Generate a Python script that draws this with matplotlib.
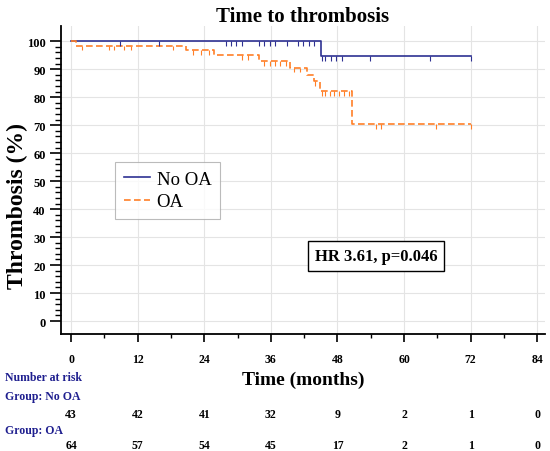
import matplotlib
matplotlib.use('Agg')
import matplotlib.pyplot as plt
import numpy as np
from matplotlib.transforms import blended_transform_factory

plt.rcParams['font.family'] = ['Liberation Serif', 'DejaVu Serif']

# Kaplan-Meier steps (months, %)
no_oa_times = [0, 45.0]
no_oa_surv = [100, 94.7]
no_oa_end = 72
no_oa_censor = [8.8, 15.9, 27.9, 28.8, 29.8, 30.8, 33.9, 34.8, 35.8, 36.8, 38.9,
                40.9, 41.8, 42.8, 43.8, 45.2, 45.8, 46.9, 47.8, 48.8, 53.8, 64.7, 72]

oa_times = [0, 0.9, 20.8, 25.8, 33.8, 39.5, 42.6, 43.7, 44.8, 50.6]
oa_surv = [100, 98.4, 96.7, 95.0, 93.0, 90.6, 88.0, 85.8, 82.2, 70.3]
oa_end = 72
oa_censor = [2.0, 6.9, 7.8, 9.6, 10.8, 18.4, 21.9, 23.4, 24.9, 30.8, 31.9,
             34.7, 35.9, 36.8, 37.7, 38.8, 40.1, 41.3, 44.0, 45.2, 45.8, 46.6,
             47.3, 48.2, 49.1, 50.0, 55.0, 55.8, 65.8, 72]

risk_times = [0, 12, 24, 36, 48, 60, 72, 84]
risk_no_oa = [43, 42, 41, 32, 9, 2, 1, 0]
risk_oa = [64, 57, 54, 45, 17, 2, 1, 0]

blue = '#2e3192'
orange = '#ff7f27'
navy = '#1f1f8f'


def level_at(times, surv, t):
    idx = np.searchsorted(times, t, side='right') - 1
    return surv[idx]


fig = plt.figure(figsize=(5.5, 4.52), dpi=100)
ax = fig.add_axes([0.111, 0.259, 0.88, 0.681])

ax.step(no_oa_times + [no_oa_end], no_oa_surv + [no_oa_surv[-1]], where='post',
        color=blue, lw=1.2, label='No OA', zorder=3)
ax.step(oa_times + [oa_end], oa_surv + [oa_surv[-1]], where='post',
        color=orange, lw=1.2, ls=(0, (4, 2)), label='OA', zorder=3)

cy = [level_at(no_oa_times, no_oa_surv, t) for t in no_oa_censor]
ax.vlines(no_oa_censor, np.array(cy) - 1.7, cy, color=blue, lw=0.8, zorder=3)
cy = [level_at(oa_times, oa_surv, t) for t in oa_censor]
ax.vlines(oa_censor, np.array(cy) - 1.7, cy, color=orange, lw=0.8, zorder=3)

ax.set_xlim(-1.8, 85.4)
ax.set_ylim(-4.6, 105.4)
ax.set_xticks(risk_times)
ax.set_xticks(np.arange(0, 85, 6), minor=True)
ax.set_yticks(np.arange(0, 101, 10))
ax.set_yticks(np.arange(0, 101, 2), minor=True)
ax.grid(True, which='major', color='#e4e4e4', lw=0.8, zorder=0)

for s in ['top', 'right']:
    ax.spines[s].set_visible(False)
for s in ['left', 'bottom']:
    ax.spines[s].set_linewidth(1.3)

ax.tick_params(axis='x', which='major', length=6, width=1.2, pad=7.5)
ax.tick_params(axis='x', which='minor', length=3, width=1.0)
ax.tick_params(axis='y', which='major', length=8, width=1.2, pad=3)
ax.tick_params(axis='y', which='minor', length=4.3, width=1.0)
for lab in ax.get_xticklabels():
    lab.set_fontweight('bold')
    lab.set_fontsize(8.5)
for lab in ax.get_yticklabels():
    lab.set_fontweight('bold')
    lab.set_fontsize(9)

ax.set_ylabel('Thrombosis (%)', fontsize=17, fontweight='bold')
ax.yaxis.set_label_coords(-0.068, 0.42)
ax.set_title('Time to thrombosis', fontsize=15, fontweight='bold', pad=3)
fig.text(0.551, 0.159, 'Time (months)', fontsize=14, fontweight='bold',
         ha='center', va='center')

leg = ax.legend(loc='upper left', bbox_to_anchor=(0.112, 0.558), fontsize=13.5,
                frameon=True, fancybox=False, edgecolor='#aaaaaa',
                borderaxespad=0, handlelength=1.4, handletextpad=0.35,
                borderpad=0.45, labelspacing=0.3)
leg.get_frame().set_linewidth(0.8)

ax.text(55, 23.2, 'HR 3.61, p=0.046', fontsize=12, fontweight='bold',
        ha='center', va='center', zorder=4,
        bbox=dict(boxstyle='square,pad=0.4', fc='white', ec='black', lw=1.0))

# number at risk table
tr = blended_transform_factory(ax.transData, fig.transFigure)
fig.text(0.009, 0.164, 'Number at risk', color=navy, fontsize=8.5,
         fontweight='bold', va='center')
fig.text(0.009, 0.122, 'Group: No OA', color=navy, fontsize=8.5,
         fontweight='bold', va='center')
fig.text(0.009, 0.046, 'Group: OA', color=navy, fontsize=8.5,
         fontweight='bold', va='center')
for t, n1, n2 in zip(risk_times, risk_no_oa, risk_oa):
    ax.text(t, 0.082, str(n1), transform=tr, ha='center', va='center',
            fontsize=8.5, fontweight='bold', clip_on=False)
    ax.text(t, 0.014, str(n2), transform=tr, ha='center', va='center',
            fontsize=8.5, fontweight='bold', clip_on=False)

fig.savefig('out.png', dpi=100)
